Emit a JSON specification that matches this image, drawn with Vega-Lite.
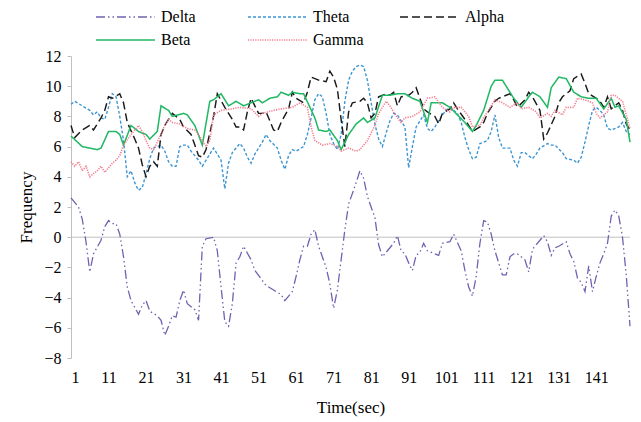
{
  "$schema": "https://vega.github.io/schema/vega-lite/v6.json",
  "width": 559,
  "height": 302,
  "autosize": {"type": "none"},
  "padding": {"left": 71, "top": 56, "right": 11, "bottom": 64},
  "background": "white",
  "config": {
    "font": "Liberation Serif",
    "view": {"stroke": null},
    "axis": {"grid": false, "labelFont": "Liberation Serif", "titleFont": "Liberation Serif", "labelColor": "#000", "titleColor": "#000", "titleFontWeight": "normal", "labelOverlap": false},
    "axisY": {"labelOverlap": false},
    "legend": {"labelFont": "Liberation Serif"}
  },
  "datasets": {
    "eeg": [
      {"s":"Delta","t":1,"v":2.6},{"s":"Delta","t":3,"v":2.0},{"s":"Delta","t":4,"v":1.2},{"s":"Delta","t":5,"v":-0.3},{"s":"Delta","t":6,"v":-2.3},{"s":"Delta","t":7,"v":-1.1},{"s":"Delta","t":9,"v":-0.2},{"s":"Delta","t":10,"v":0.7},{"s":"Delta","t":11,"v":1.1},{"s":"Delta","t":12,"v":0.9},{"s":"Delta","t":13,"v":0.9},{"s":"Delta","t":14,"v":0.2},{"s":"Delta","t":15,"v":-1.3},{"s":"Delta","t":16,"v":-3.3},{"s":"Delta","t":17,"v":-4.2},{"s":"Delta","t":19,"v":-5.1},{"s":"Delta","t":20,"v":-4.5},{"s":"Delta","t":21,"v":-4.2},{"s":"Delta","t":22,"v":-4.9},{"s":"Delta","t":24,"v":-5.2},{"s":"Delta","t":25,"v":-5.5},{"s":"Delta","t":26,"v":-6.5},{"s":"Delta","t":27,"v":-5.9},{"s":"Delta","t":28,"v":-5.2},{"s":"Delta","t":29,"v":-5.3},{"s":"Delta","t":30,"v":-4.2},{"s":"Delta","t":31,"v":-3.5},{"s":"Delta","t":32,"v":-4.4},{"s":"Delta","t":34,"v":-4.8},{"s":"Delta","t":35,"v":-5.5},{"s":"Delta","t":36,"v":-0.6},{"s":"Delta","t":37,"v":-0.1},{"s":"Delta","t":39,"v":0.0},{"s":"Delta","t":40,"v":-0.9},{"s":"Delta","t":41,"v":-3.3},{"s":"Delta","t":42,"v":-5.6},{"s":"Delta","t":43,"v":-5.9},{"s":"Delta","t":44,"v":-4.4},{"s":"Delta","t":45,"v":-1.7},{"s":"Delta","t":46,"v":-1.3},{"s":"Delta","t":47,"v":-0.6},{"s":"Delta","t":49,"v":-1.5},{"s":"Delta","t":50,"v":-2.2},{"s":"Delta","t":53,"v":-3.2},{"s":"Delta","t":55,"v":-3.5},{"s":"Delta","t":57,"v":-3.8},{"s":"Delta","t":58,"v":-4.2},{"s":"Delta","t":60,"v":-3.6},{"s":"Delta","t":61,"v":-2.6},{"s":"Delta","t":62,"v":-1.5},{"s":"Delta","t":63,"v":-0.6},{"s":"Delta","t":64,"v":-0.6},{"s":"Delta","t":65,"v":0.2},{"s":"Delta","t":66,"v":0.5},{"s":"Delta","t":67,"v":-0.6},{"s":"Delta","t":69,"v":-2.0},{"s":"Delta","t":70,"v":-3.1},{"s":"Delta","t":71,"v":-4.7},{"s":"Delta","t":72,"v":-3.5},{"s":"Delta","t":73,"v":-1.5},{"s":"Delta","t":74,"v":0.5},{"s":"Delta","t":75,"v":2.2},{"s":"Delta","t":77,"v":3.6},{"s":"Delta","t":78,"v":4.4},{"s":"Delta","t":79,"v":3.9},{"s":"Delta","t":80,"v":2.7},{"s":"Delta","t":82,"v":1.3},{"s":"Delta","t":83,"v":-0.5},{"s":"Delta","t":84,"v":-1.3},{"s":"Delta","t":85,"v":-1.0},{"s":"Delta","t":87,"v":-0.4},{"s":"Delta","t":88,"v":0.1},{"s":"Delta","t":89,"v":-0.9},{"s":"Delta","t":90,"v":-1.1},{"s":"Delta","t":91,"v":-1.7},{"s":"Delta","t":92,"v":-2.2},{"s":"Delta","t":93,"v":-1.2},{"s":"Delta","t":94,"v":-1.0},{"s":"Delta","t":95,"v":-0.4},{"s":"Delta","t":96,"v":-0.9},{"s":"Delta","t":98,"v":-1.1},{"s":"Delta","t":99,"v":-1.2},{"s":"Delta","t":100,"v":-0.4},{"s":"Delta","t":102,"v":-0.3},{"s":"Delta","t":103,"v":0.2},{"s":"Delta","t":105,"v":-0.9},{"s":"Delta","t":106,"v":-2.2},{"s":"Delta","t":107,"v":-3.3},{"s":"Delta","t":108,"v":-3.9},{"s":"Delta","t":109,"v":-2.6},{"s":"Delta","t":110,"v":-0.4},{"s":"Delta","t":111,"v":1.1},{"s":"Delta","t":112,"v":1.0},{"s":"Delta","t":113,"v":0.2},{"s":"Delta","t":114,"v":-0.9},{"s":"Delta","t":115,"v":-1.7},{"s":"Delta","t":116,"v":-2.5},{"s":"Delta","t":117,"v":-2.5},{"s":"Delta","t":118,"v":-1.3},{"s":"Delta","t":119,"v":-1.1},{"s":"Delta","t":120,"v":-1.1},{"s":"Delta","t":122,"v":-1.5},{"s":"Delta","t":123,"v":-2.3},{"s":"Delta","t":124,"v":-0.8},{"s":"Delta","t":126,"v":-0.2},{"s":"Delta","t":127,"v":0.1},{"s":"Delta","t":128,"v":-0.3},{"s":"Delta","t":129,"v":-1.2},{"s":"Delta","t":130,"v":-0.7},{"s":"Delta","t":131,"v":-0.6},{"s":"Delta","t":133,"v":-0.3},{"s":"Delta","t":134,"v":-1.1},{"s":"Delta","t":135,"v":-1.6},{"s":"Delta","t":136,"v":-2.7},{"s":"Delta","t":137,"v":-3.0},{"s":"Delta","t":138,"v":-3.6},{"s":"Delta","t":139,"v":-1.9},{"s":"Delta","t":140,"v":-3.6},{"s":"Delta","t":141,"v":-2.6},{"s":"Delta","t":142,"v":-1.7},{"s":"Delta","t":143,"v":-1.1},{"s":"Delta","t":144,"v":-0.4},{"s":"Delta","t":145,"v":1.4},{"s":"Delta","t":146,"v":1.8},{"s":"Delta","t":147,"v":1.4},{"s":"Delta","t":148,"v":0.0},{"s":"Delta","t":149,"v":-2.5},{"s":"Delta","t":150,"v":-5.9},
      {"s":"Theta","t":1,"v":8.8},{"s":"Theta","t":2,"v":9.0},{"s":"Theta","t":4,"v":8.7},{"s":"Theta","t":6,"v":8.4},{"s":"Theta","t":7,"v":8.1},{"s":"Theta","t":8,"v":8.3},{"s":"Theta","t":9,"v":7.9},{"s":"Theta","t":10,"v":7.8},{"s":"Theta","t":11,"v":8.6},{"s":"Theta","t":12,"v":9.5},{"s":"Theta","t":13,"v":9.3},{"s":"Theta","t":14,"v":8.0},{"s":"Theta","t":15,"v":6.4},{"s":"Theta","t":16,"v":4.0},{"s":"Theta","t":17,"v":4.4},{"s":"Theta","t":18,"v":3.6},{"s":"Theta","t":19,"v":3.1},{"s":"Theta","t":20,"v":3.3},{"s":"Theta","t":21,"v":4.2},{"s":"Theta","t":22,"v":5.2},{"s":"Theta","t":23,"v":5.9},{"s":"Theta","t":25,"v":6.1},{"s":"Theta","t":26,"v":5.7},{"s":"Theta","t":27,"v":5.0},{"s":"Theta","t":28,"v":4.7},{"s":"Theta","t":29,"v":4.7},{"s":"Theta","t":30,"v":6.0},{"s":"Theta","t":31,"v":6.1},{"s":"Theta","t":32,"v":6.1},{"s":"Theta","t":33,"v":5.7},{"s":"Theta","t":35,"v":5.1},{"s":"Theta","t":36,"v":4.7},{"s":"Theta","t":37,"v":5.1},{"s":"Theta","t":38,"v":5.5},{"s":"Theta","t":39,"v":5.9},{"s":"Theta","t":41,"v":5.1},{"s":"Theta","t":42,"v":3.2},{"s":"Theta","t":43,"v":4.9},{"s":"Theta","t":44,"v":5.6},{"s":"Theta","t":46,"v":6.2},{"s":"Theta","t":47,"v":5.9},{"s":"Theta","t":48,"v":5.3},{"s":"Theta","t":49,"v":4.9},{"s":"Theta","t":50,"v":5.5},{"s":"Theta","t":52,"v":6.3},{"s":"Theta","t":53,"v":6.8},{"s":"Theta","t":54,"v":6.4},{"s":"Theta","t":56,"v":5.9},{"s":"Theta","t":57,"v":5.1},{"s":"Theta","t":58,"v":4.5},{"s":"Theta","t":59,"v":5.4},{"s":"Theta","t":60,"v":5.8},{"s":"Theta","t":61,"v":5.7},{"s":"Theta","t":63,"v":6.0},{"s":"Theta","t":64,"v":6.8},{"s":"Theta","t":65,"v":7.9},{"s":"Theta","t":66,"v":9.1},{"s":"Theta","t":67,"v":9.5},{"s":"Theta","t":68,"v":9.3},{"s":"Theta","t":69,"v":8.2},{"s":"Theta","t":70,"v":6.8},{"s":"Theta","t":71,"v":6.2},{"s":"Theta","t":72,"v":5.8},{"s":"Theta","t":73,"v":6.8},{"s":"Theta","t":74,"v":9.0},{"s":"Theta","t":75,"v":10.4},{"s":"Theta","t":76,"v":11.0},{"s":"Theta","t":77,"v":11.3},{"s":"Theta","t":78,"v":11.4},{"s":"Theta","t":79,"v":11.3},{"s":"Theta","t":80,"v":10.4},{"s":"Theta","t":81,"v":8.9},{"s":"Theta","t":82,"v":7.5},{"s":"Theta","t":83,"v":6.5},{"s":"Theta","t":84,"v":6.0},{"s":"Theta","t":85,"v":6.9},{"s":"Theta","t":86,"v":7.7},{"s":"Theta","t":87,"v":8.2},{"s":"Theta","t":88,"v":8.1},{"s":"Theta","t":90,"v":7.3},{"s":"Theta","t":91,"v":4.6},{"s":"Theta","t":92,"v":6.0},{"s":"Theta","t":93,"v":7.3},{"s":"Theta","t":95,"v":8.1},{"s":"Theta","t":96,"v":7.2},{"s":"Theta","t":97,"v":7.0},{"s":"Theta","t":98,"v":7.3},{"s":"Theta","t":100,"v":8.1},{"s":"Theta","t":101,"v":8.4},{"s":"Theta","t":102,"v":8.6},{"s":"Theta","t":104,"v":8.2},{"s":"Theta","t":105,"v":7.6},{"s":"Theta","t":106,"v":6.6},{"s":"Theta","t":107,"v":5.8},{"s":"Theta","t":108,"v":5.2},{"s":"Theta","t":109,"v":5.3},{"s":"Theta","t":110,"v":6.2},{"s":"Theta","t":112,"v":6.4},{"s":"Theta","t":113,"v":7.0},{"s":"Theta","t":114,"v":8.1},{"s":"Theta","t":115,"v":6.6},{"s":"Theta","t":116,"v":5.9},{"s":"Theta","t":118,"v":5.9},{"s":"Theta","t":119,"v":5.1},{"s":"Theta","t":120,"v":4.7},{"s":"Theta","t":121,"v":5.6},{"s":"Theta","t":122,"v":5.6},{"s":"Theta","t":123,"v":5.4},{"s":"Theta","t":124,"v":5.2},{"s":"Theta","t":125,"v":5.5},{"s":"Theta","t":126,"v":5.9},{"s":"Theta","t":128,"v":6.2},{"s":"Theta","t":129,"v":6.1},{"s":"Theta","t":130,"v":6.1},{"s":"Theta","t":132,"v":5.6},{"s":"Theta","t":133,"v":5.2},{"s":"Theta","t":135,"v":5.1},{"s":"Theta","t":136,"v":4.9},{"s":"Theta","t":137,"v":5.3},{"s":"Theta","t":138,"v":6.3},{"s":"Theta","t":139,"v":7.4},{"s":"Theta","t":140,"v":8.4},{"s":"Theta","t":141,"v":8.6},{"s":"Theta","t":142,"v":8.4},{"s":"Theta","t":143,"v":8.1},{"s":"Theta","t":144,"v":7.2},{"s":"Theta","t":145,"v":7.1},{"s":"Theta","t":147,"v":7.3},{"s":"Theta","t":148,"v":7.6},{"s":"Theta","t":149,"v":7.0},{"s":"Theta","t":150,"v":6.8},
      {"s":"Alpha","t":1,"v":7.4},{"s":"Alpha","t":2,"v":6.6},{"s":"Alpha","t":4,"v":7.1},{"s":"Alpha","t":6,"v":7.4},{"s":"Alpha","t":7,"v":7.1},{"s":"Alpha","t":9,"v":7.9},{"s":"Alpha","t":10,"v":8.4},{"s":"Alpha","t":11,"v":9.3},{"s":"Alpha","t":12,"v":9.2},{"s":"Alpha","t":14,"v":9.5},{"s":"Alpha","t":15,"v":8.9},{"s":"Alpha","t":16,"v":7.6},{"s":"Alpha","t":18,"v":6.5},{"s":"Alpha","t":19,"v":5.9},{"s":"Alpha","t":20,"v":4.8},{"s":"Alpha","t":21,"v":4.0},{"s":"Alpha","t":22,"v":4.7},{"s":"Alpha","t":23,"v":5.0},{"s":"Alpha","t":24,"v":4.7},{"s":"Alpha","t":25,"v":6.8},{"s":"Alpha","t":26,"v":7.4},{"s":"Alpha","t":28,"v":8.2},{"s":"Alpha","t":30,"v":7.8},{"s":"Alpha","t":31,"v":7.3},{"s":"Alpha","t":33,"v":6.8},{"s":"Alpha","t":35,"v":5.4},{"s":"Alpha","t":36,"v":5.3},{"s":"Alpha","t":37,"v":5.8},{"s":"Alpha","t":39,"v":8.0},{"s":"Alpha","t":40,"v":9.5},{"s":"Alpha","t":42,"v":8.6},{"s":"Alpha","t":44,"v":7.8},{"s":"Alpha","t":45,"v":7.3},{"s":"Alpha","t":46,"v":7.3},{"s":"Alpha","t":47,"v":7.1},{"s":"Alpha","t":48,"v":8.3},{"s":"Alpha","t":49,"v":9.2},{"s":"Alpha","t":51,"v":8.2},{"s":"Alpha","t":52,"v":8.2},{"s":"Alpha","t":53,"v":8.3},{"s":"Alpha","t":55,"v":7.1},{"s":"Alpha","t":56,"v":7.0},{"s":"Alpha","t":57,"v":7.6},{"s":"Alpha","t":59,"v":8.5},{"s":"Alpha","t":60,"v":9.6},{"s":"Alpha","t":61,"v":9.2},{"s":"Alpha","t":63,"v":8.9},{"s":"Alpha","t":64,"v":9.6},{"s":"Alpha","t":65,"v":10.6},{"s":"Alpha","t":67,"v":10.4},{"s":"Alpha","t":69,"v":10.3},{"s":"Alpha","t":70,"v":11.0},{"s":"Alpha","t":71,"v":10.6},{"s":"Alpha","t":72,"v":9.8},{"s":"Alpha","t":73,"v":7.8},{"s":"Alpha","t":74,"v":6.0},{"s":"Alpha","t":75,"v":8.3},{"s":"Alpha","t":76,"v":8.9},{"s":"Alpha","t":78,"v":9.0},{"s":"Alpha","t":79,"v":9.2},{"s":"Alpha","t":80,"v":8.9},{"s":"Alpha","t":81,"v":7.9},{"s":"Alpha","t":82,"v":8.2},{"s":"Alpha","t":83,"v":9.3},{"s":"Alpha","t":85,"v":9.5},{"s":"Alpha","t":86,"v":9.4},{"s":"Alpha","t":87,"v":9.6},{"s":"Alpha","t":88,"v":8.7},{"s":"Alpha","t":89,"v":9.3},{"s":"Alpha","t":91,"v":9.4},{"s":"Alpha","t":92,"v":9.6},{"s":"Alpha","t":93,"v":9.9},{"s":"Alpha","t":94,"v":9.2},{"s":"Alpha","t":95,"v":8.5},{"s":"Alpha","t":96,"v":8.3},{"s":"Alpha","t":98,"v":8.0},{"s":"Alpha","t":99,"v":7.5},{"s":"Alpha","t":100,"v":8.2},{"s":"Alpha","t":102,"v":8.5},{"s":"Alpha","t":103,"v":8.9},{"s":"Alpha","t":104,"v":8.5},{"s":"Alpha","t":106,"v":7.8},{"s":"Alpha","t":107,"v":7.4},{"s":"Alpha","t":108,"v":7.0},{"s":"Alpha","t":110,"v":7.3},{"s":"Alpha","t":111,"v":7.6},{"s":"Alpha","t":112,"v":8.2},{"s":"Alpha","t":114,"v":9.0},{"s":"Alpha","t":115,"v":9.2},{"s":"Alpha","t":116,"v":9.3},{"s":"Alpha","t":118,"v":9.5},{"s":"Alpha","t":119,"v":9.1},{"s":"Alpha","t":120,"v":8.6},{"s":"Alpha","t":122,"v":9.1},{"s":"Alpha","t":123,"v":9.6},{"s":"Alpha","t":124,"v":9.3},{"s":"Alpha","t":126,"v":8.4},{"s":"Alpha","t":127,"v":6.5},{"s":"Alpha","t":128,"v":6.9},{"s":"Alpha","t":130,"v":8.0},{"s":"Alpha","t":131,"v":8.9},{"s":"Alpha","t":132,"v":9.3},{"s":"Alpha","t":134,"v":9.7},{"s":"Alpha","t":135,"v":10.5},{"s":"Alpha","t":137,"v":10.8},{"s":"Alpha","t":138,"v":10.2},{"s":"Alpha","t":139,"v":9.5},{"s":"Alpha","t":141,"v":9.2},{"s":"Alpha","t":142,"v":9.0},{"s":"Alpha","t":143,"v":8.6},{"s":"Alpha","t":144,"v":9.3},{"s":"Alpha","t":145,"v":8.5},{"s":"Alpha","t":147,"v":8.9},{"s":"Alpha","t":148,"v":8.4},{"s":"Alpha","t":149,"v":7.5},{"s":"Alpha","t":150,"v":7.1},
      {"s":"Beta","t":1,"v":6.7},{"s":"Beta","t":4,"v":6.0},{"s":"Beta","t":8,"v":5.8},{"s":"Beta","t":9,"v":5.9},{"s":"Beta","t":11,"v":7.0},{"s":"Beta","t":13,"v":7.0},{"s":"Beta","t":14,"v":6.8},{"s":"Beta","t":15,"v":6.1},{"s":"Beta","t":17,"v":7.4},{"s":"Beta","t":19,"v":7.0},{"s":"Beta","t":21,"v":6.8},{"s":"Beta","t":22,"v":6.5},{"s":"Beta","t":24,"v":7.0},{"s":"Beta","t":25,"v":8.7},{"s":"Beta","t":27,"v":8.4},{"s":"Beta","t":28,"v":8.0},{"s":"Beta","t":31,"v":8.2},{"s":"Beta","t":32,"v":8.1},{"s":"Beta","t":34,"v":7.4},{"s":"Beta","t":36,"v":6.1},{"s":"Beta","t":38,"v":9.0},{"s":"Beta","t":39,"v":9.1},{"s":"Beta","t":41,"v":9.5},{"s":"Beta","t":43,"v":8.7},{"s":"Beta","t":45,"v":9.0},{"s":"Beta","t":47,"v":8.7},{"s":"Beta","t":49,"v":8.9},{"s":"Beta","t":51,"v":9.1},{"s":"Beta","t":52,"v":8.9},{"s":"Beta","t":54,"v":9.2},{"s":"Beta","t":56,"v":9.3},{"s":"Beta","t":57,"v":9.6},{"s":"Beta","t":59,"v":9.4},{"s":"Beta","t":60,"v":9.6},{"s":"Beta","t":62,"v":9.5},{"s":"Beta","t":63,"v":9.5},{"s":"Beta","t":66,"v":7.9},{"s":"Beta","t":67,"v":7.1},{"s":"Beta","t":69,"v":7.0},{"s":"Beta","t":70,"v":7.1},{"s":"Beta","t":72,"v":6.4},{"s":"Beta","t":73,"v":5.8},{"s":"Beta","t":75,"v":6.8},{"s":"Beta","t":77,"v":7.5},{"s":"Beta","t":79,"v":7.9},{"s":"Beta","t":80,"v":7.6},{"s":"Beta","t":82,"v":7.9},{"s":"Beta","t":84,"v":9.4},{"s":"Beta","t":86,"v":9.4},{"s":"Beta","t":88,"v":9.5},{"s":"Beta","t":90,"v":9.5},{"s":"Beta","t":92,"v":9.2},{"s":"Beta","t":94,"v":9.0},{"s":"Beta","t":96,"v":7.6},{"s":"Beta","t":97,"v":8.9},{"s":"Beta","t":100,"v":8.9},{"s":"Beta","t":102,"v":8.6},{"s":"Beta","t":104,"v":8.1},{"s":"Beta","t":106,"v":7.6},{"s":"Beta","t":108,"v":7.0},{"s":"Beta","t":109,"v":7.4},{"s":"Beta","t":111,"v":8.4},{"s":"Beta","t":112,"v":9.2},{"s":"Beta","t":113,"v":10.0},{"s":"Beta","t":114,"v":10.4},{"s":"Beta","t":116,"v":10.4},{"s":"Beta","t":117,"v":10.0},{"s":"Beta","t":119,"v":9.2},{"s":"Beta","t":121,"v":8.6},{"s":"Beta","t":123,"v":9.3},{"s":"Beta","t":124,"v":9.6},{"s":"Beta","t":126,"v":9.3},{"s":"Beta","t":128,"v":8.6},{"s":"Beta","t":129,"v":9.9},{"s":"Beta","t":131,"v":10.6},{"s":"Beta","t":133,"v":10.5},{"s":"Beta","t":135,"v":9.6},{"s":"Beta","t":137,"v":9.3},{"s":"Beta","t":139,"v":9.2},{"s":"Beta","t":141,"v":9.2},{"s":"Beta","t":143,"v":8.5},{"s":"Beta","t":145,"v":9.2},{"s":"Beta","t":146,"v":8.6},{"s":"Beta","t":147,"v":8.7},{"s":"Beta","t":149,"v":7.8},{"s":"Beta","t":150,"v":6.3},
      {"s":"Gamma","t":1,"v":5.0},{"s":"Gamma","t":2,"v":4.7},{"s":"Gamma","t":3,"v":5.0},{"s":"Gamma","t":4,"v":4.4},{"s":"Gamma","t":5,"v":4.7},{"s":"Gamma","t":6,"v":4.0},{"s":"Gamma","t":8,"v":4.4},{"s":"Gamma","t":9,"v":4.7},{"s":"Gamma","t":10,"v":4.3},{"s":"Gamma","t":12,"v":4.9},{"s":"Gamma","t":13,"v":5.1},{"s":"Gamma","t":14,"v":5.4},{"s":"Gamma","t":15,"v":6.1},{"s":"Gamma","t":17,"v":6.8},{"s":"Gamma","t":18,"v":7.1},{"s":"Gamma","t":19,"v":7.4},{"s":"Gamma","t":20,"v":7.0},{"s":"Gamma","t":21,"v":6.4},{"s":"Gamma","t":22,"v":5.9},{"s":"Gamma","t":23,"v":5.8},{"s":"Gamma","t":24,"v":6.3},{"s":"Gamma","t":26,"v":7.4},{"s":"Gamma","t":27,"v":7.8},{"s":"Gamma","t":28,"v":7.6},{"s":"Gamma","t":30,"v":7.5},{"s":"Gamma","t":32,"v":7.2},{"s":"Gamma","t":34,"v":7.1},{"s":"Gamma","t":35,"v":6.8},{"s":"Gamma","t":37,"v":6.0},{"s":"Gamma","t":38,"v":6.4},{"s":"Gamma","t":39,"v":8.1},{"s":"Gamma","t":41,"v":8.4},{"s":"Gamma","t":44,"v":8.5},{"s":"Gamma","t":46,"v":8.6},{"s":"Gamma","t":49,"v":8.5},{"s":"Gamma","t":51,"v":8.0},{"s":"Gamma","t":52,"v":8.2},{"s":"Gamma","t":55,"v":8.4},{"s":"Gamma","t":57,"v":8.5},{"s":"Gamma","t":60,"v":8.6},{"s":"Gamma","t":62,"v":8.9},{"s":"Gamma","t":64,"v":8.6},{"s":"Gamma","t":65,"v":7.3},{"s":"Gamma","t":66,"v":6.4},{"s":"Gamma","t":68,"v":6.1},{"s":"Gamma","t":70,"v":6.2},{"s":"Gamma","t":72,"v":6.0},{"s":"Gamma","t":73,"v":5.7},{"s":"Gamma","t":75,"v":5.9},{"s":"Gamma","t":77,"v":5.7},{"s":"Gamma","t":78,"v":5.8},{"s":"Gamma","t":80,"v":6.4},{"s":"Gamma","t":82,"v":7.4},{"s":"Gamma","t":83,"v":8.2},{"s":"Gamma","t":85,"v":9.0},{"s":"Gamma","t":86,"v":8.7},{"s":"Gamma","t":88,"v":7.9},{"s":"Gamma","t":89,"v":7.6},{"s":"Gamma","t":90,"v":7.9},{"s":"Gamma","t":92,"v":8.0},{"s":"Gamma","t":94,"v":8.3},{"s":"Gamma","t":96,"v":9.2},{"s":"Gamma","t":98,"v":9.3},{"s":"Gamma","t":100,"v":8.6},{"s":"Gamma","t":102,"v":8.3},{"s":"Gamma","t":103,"v":8.6},{"s":"Gamma","t":105,"v":8.6},{"s":"Gamma","t":107,"v":8.0},{"s":"Gamma","t":108,"v":7.3},{"s":"Gamma","t":110,"v":7.4},{"s":"Gamma","t":111,"v":7.9},{"s":"Gamma","t":113,"v":8.7},{"s":"Gamma","t":114,"v":9.1},{"s":"Gamma","t":116,"v":8.9},{"s":"Gamma","t":118,"v":8.6},{"s":"Gamma","t":120,"v":8.9},{"s":"Gamma","t":121,"v":8.5},{"s":"Gamma","t":123,"v":8.6},{"s":"Gamma","t":125,"v":8.3},{"s":"Gamma","t":126,"v":7.9},{"s":"Gamma","t":128,"v":8.2},{"s":"Gamma","t":129,"v":8.0},{"s":"Gamma","t":130,"v":8.4},{"s":"Gamma","t":132,"v":8.1},{"s":"Gamma","t":133,"v":8.6},{"s":"Gamma","t":135,"v":8.6},{"s":"Gamma","t":136,"v":9.2},{"s":"Gamma","t":138,"v":9.1},{"s":"Gamma","t":140,"v":8.9},{"s":"Gamma","t":141,"v":8.2},{"s":"Gamma","t":142,"v":7.9},{"s":"Gamma","t":144,"v":8.3},{"s":"Gamma","t":145,"v":9.4},{"s":"Gamma","t":146,"v":9.4},{"s":"Gamma","t":148,"v":9.0},{"s":"Gamma","t":149,"v":8.1},{"s":"Gamma","t":150,"v":7.2}
    ]
  },
  "layer": [
    {
      "data": {"values": [{}]},
      "mark": {"type": "rule", "color": "#c0c0c0", "strokeWidth": 1},
      "encoding": {
        "y": {
          "datum": 0, "type": "quantitative",
          "scale": {"domain": [-8, 12], "nice": false},
          "axis": {
            "values": [-8, -6, -4, -2, 0, 2, 4, 6, 8, 10, 12], "labelOverlap": false,
            "domain": true, "domainColor": "#c0c0c0", "ticks": true, "tickColor": "#c0c0c0", "tickSize": 4,
            "labelFontSize": 16, "labelFont": "Liberation Serif", "labelPadding": 6, "title": "Frequency", "titleFontSize": 17, "titleFont": "Liberation Serif", "titlePadding": 8
          }
        }
      }
    },
    {
      "data": {"name": "eeg"},
      "mark": {"type": "line", "interpolate": "linear"},
      "encoding": {
        "x": {
          "field": "t", "type": "quantitative",
          "scale": {"domain": [1, 150], "nice": false, "zero": false},
          "axis": {
            "values": [1, 11, 21, 31, 41, 51, 61, 71, 81, 91, 101, 111, 121, 131, 141], "labelOverlap": false,
            "format": "d", "domain": false, "ticks": false, "labelFontSize": 16, "labelFont": "Liberation Serif",
            "labelPadding": 11, "title": "Time(sec)", "titleFontSize": 17, "titleFont": "Liberation Serif", "titlePadding": 14
          }
        },
        "y": {
          "field": "v", "type": "quantitative",
          "scale": {"domain": [-8, 12], "nice": false},
          "axis": {
            "values": [-8, -6, -4, -2, 0, 2, 4, 6, 8, 10, 12], "labelOverlap": false,
            "domain": true, "domainColor": "#c0c0c0", "ticks": true, "tickColor": "#c0c0c0", "tickSize": 4,
            "labelFontSize": 16, "labelFont": "Liberation Serif", "labelPadding": 6, "title": "Frequency", "titleFontSize": 17, "titleFont": "Liberation Serif", "titlePadding": 8
          }
        },
        "color": {
          "field": "s", "type": "nominal",
          "scale": {"domain": ["Delta", "Theta", "Alpha", "Beta", "Gamma"], "range": ["#7360b0", "#3b95d3", "#1a1a1a", "#21b864", "#f47c8f"]},
          "legend": {
            "title": null, "orient": "none", "legendX": 24, "legendY": -48, "direction": "horizontal", "columns": 3,
            "symbolType": "stroke", "symbolSize": 3481, "symbolStrokeWidth": 1.5, "clipHeight": 18, "rowPadding": 5,
            "columnPadding": 35, "gridAlign": "all", "labelFontSize": 16, "labelFont": "Liberation Serif", "labelOffset": 5, "padding": 0, "labelColor": "#000"
          }
        },
        "strokeDash": {
          "field": "s", "type": "nominal",
          "scale": {"domain": ["Delta", "Theta", "Alpha", "Beta", "Gamma"], "range": [[9, 3, 1.5, 3, 1.5, 3], [3, 2], [8, 4], [1, 0], [1.2, 1.2]]},
          "legend": {
            "title": null, "orient": "none", "legendX": 24, "legendY": -48, "direction": "horizontal", "columns": 3,
            "symbolType": "stroke", "symbolSize": 3481, "symbolStrokeWidth": 1.5, "clipHeight": 18, "rowPadding": 5,
            "columnPadding": 35, "gridAlign": "all", "labelFontSize": 16, "labelFont": "Liberation Serif", "labelOffset": 5, "padding": 0, "labelColor": "#000"
          }
        },
        "strokeWidth": {
          "field": "s", "type": "nominal",
          "scale": {"domain": ["Delta", "Theta", "Alpha", "Beta", "Gamma"], "range": [1.3, 1.6, 1.6, 1.8, 1.1]},
          "legend": null
        }
      }
    }
  ]
}
